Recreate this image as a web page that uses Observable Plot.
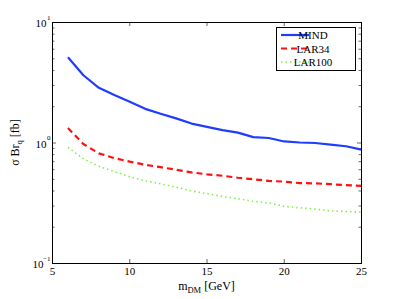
<!DOCTYPE html>
<html>
<head>
<meta charset="utf-8">
<script src="https://cdn.jsdelivr.net/npm/d3@7"></script>
<script src="https://cdn.jsdelivr.net/npm/@observablehq/plot@0.6"></script>
<style>
  html, body { margin: 0; padding: 0; background: #fff; }
  svg text { font-family: "Liberation Serif", "DejaVu Serif", serif; }
</style>
</head>
<body>
<div id="chart"></div>
<script>
const mass = [6, 7, 8, 9, 10, 11, 12, 13, 14, 15, 16, 17, 18, 19, 20, 21, 22, 23, 24, 25];
const mind = [5.15, 3.65, 2.87, 2.5, 2.2, 1.92, 1.75, 1.6, 1.45, 1.36, 1.28, 1.22, 1.12, 1.1, 1.03, 1.01, 1.0, 0.97, 0.94, 0.88];
const lar34 = [1.33, 0.98, 0.82, 0.75, 0.70, 0.66, 0.63, 0.60, 0.57, 0.55, 0.535, 0.515, 0.50, 0.485, 0.478, 0.465, 0.462, 0.455, 0.447, 0.44];
const lar100 = [0.92, 0.74, 0.64, 0.58, 0.525, 0.485, 0.458, 0.43, 0.40, 0.38, 0.36, 0.345, 0.328, 0.318, 0.298, 0.29, 0.283, 0.273, 0.27, 0.267];
const seriesNames = ["MIND", "LAR34", "LAR100"];
const xTicks = [5, 10, 15, 20, 25];
const yMajorExp = [-1, 0, 1];
const yMinor = [0.2,0.3,0.4,0.5,0.6,0.7,0.8,0.9,2,3,4,5,6,7,8,9];

const W = 399, H = 299, mL = 52, mR = 38, mT = 22, mB = 36;
const pw = W - mL - mR, ph = H - mT - mB;
const colors = {MIND: "#1f3cff", LAR34: "#ff1010", LAR100: "#80f050"};
const dashes = {MIND: null, LAR34: "6,4", LAR100: "1.5,3"};
const widths = {MIND: 2.2, LAR34: 2.2, LAR100: 1.6};

const vals = {MIND: mind, LAR34: lar34, LAR100: lar100};
const rows = seriesNames.flatMap(s => mass.map((m, i) => ({s, m, v: vals[s][i]})));

const yMajor = yMajorExp.map(e => Math.pow(10, e));
const serif = "Liberation Serif";

const lineMarks = seriesNames.map(s => Plot.line(rows.filter(r => r.s === s), {
  x: "m", y: "v", stroke: colors[s], strokeWidth: widths[s],
  strokeDasharray: dashes[s], strokeLinecap: "butt", strokeLinejoin: "round"
}));

const chart = Plot.plot({
  width: W, height: H,
  marginLeft: mL, marginRight: mR, marginTop: mT, marginBottom: mB,
  x: {domain: [5, 25], axis: null},
  y: {type: "log", domain: [0.1, 10], axis: null},
  style: {fontFamily: serif, background: "white"},
  marks: [
    // inward ticks (bottom & top)
    Plot.tickX(xTicks, {x: d => d, insetTop: ph - 4, stroke: "black", strokeWidth: 0.6}),
    Plot.tickX(xTicks, {x: d => d, insetBottom: ph - 4, stroke: "black", strokeWidth: 0.6}),
    // y major/minor ticks (left & right)
    Plot.tickY(yMajor, {y: d => d, insetRight: pw - 4, stroke: "black", strokeWidth: 0.6}),
    Plot.tickY(yMajor, {y: d => d, insetLeft: pw - 4, stroke: "black", strokeWidth: 0.6}),
    Plot.tickY(yMinor, {y: d => d, insetRight: pw - 2.5, stroke: "black", strokeWidth: 0.6}),
    Plot.tickY(yMinor, {y: d => d, insetLeft: pw - 2.5, stroke: "black", strokeWidth: 0.6}),
    ...lineMarks,
    Plot.frame({stroke: "black", strokeWidth: 1}),
    // x tick labels
    Plot.text(xTicks, {x: d => d, frameAnchor: "bottom", dy: 11, text: d => String(d), fontSize: 11, fill: "black", fontFamily: serif}),
    // y tick labels "10" and exponent
    Plot.text(yMajorExp.filter(e => e >= 0), {y: e => Math.pow(10, e), frameAnchor: "left", dx: -6, dy: 1, textAnchor: "end", text: () => "10", fontSize: 11, fill: "black", fontFamily: serif}),
    Plot.text(yMajorExp.filter(e => e < 0), {y: e => Math.pow(10, e), frameAnchor: "left", dx: -9, dy: 1, textAnchor: "end", text: () => "10", fontSize: 11, fill: "black", fontFamily: serif}),
    Plot.text(yMajorExp, {y: e => Math.pow(10, e), frameAnchor: "left", dx: -2, dy: -5, textAnchor: "end", text: e => String(e).replace("-", "\u2212"), fontSize: 7, fill: "black", fontFamily: serif})
  ]
});

document.getElementById("chart").appendChild(chart);

const svg = d3.select(chart);
// x axis title
const xt = svg.append("text")
  .attr("x", mL + pw / 2).attr("y", 290)
  .attr("text-anchor", "middle")
  .attr("font-size", 12).attr("fill", "black")
  .attr("font-family", serif);
xt.append("tspan").text("m");
xt.append("tspan").attr("font-size", 8.5).attr("dy", 3).text("DM");
xt.append("tspan").attr("dy", -3).text(" [GeV]");

// y axis title
const yt = svg.append("text")
  .attr("transform", `translate(19,${mT + ph / 2}) rotate(-90)`)
  .attr("text-anchor", "middle")
  .attr("font-size", 12).attr("fill", "black")
  .attr("font-family", serif);
yt.append("tspan").text("\u03C3 Br");
yt.append("tspan").attr("font-size", 8.5).attr("dy", 3).text("q");
yt.append("tspan").attr("dy", -3).text(" [fb]");

// legend
const lg = svg.append("g");
lg.append("rect").attr("x", 276.5).attr("y", 27.5).attr("width", 79).attr("height", 43)
  .attr("fill", "white").attr("stroke", "black").attr("stroke-width", 1);
seriesNames.forEach((s, i) => {
  const y = 35 + i * 13.5;
  lg.append("line").attr("x1", 281).attr("x2", 309).attr("y1", y).attr("y2", y)
    .attr("stroke", colors[s]).attr("stroke-width", widths[s])
    .attr("stroke-dasharray", dashes[s]);
  lg.append("text").attr("x", 313).attr("y", y + 4)
    .attr("font-size", 11).attr("fill", "black").attr("font-family", serif).text(s);
});
</script>
</body>
</html>
